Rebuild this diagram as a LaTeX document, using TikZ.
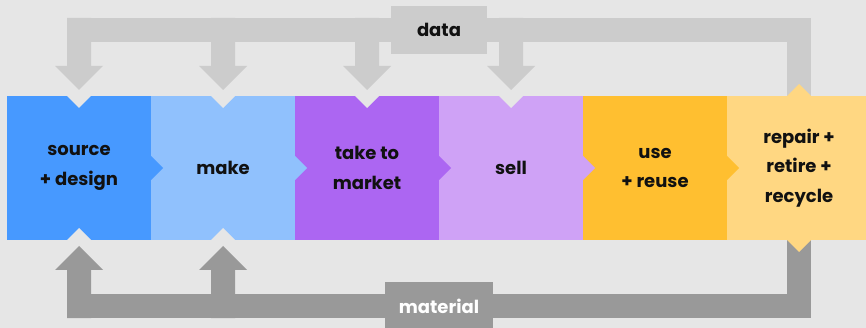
\documentclass[tikz,border=0pt]{standalone}
\usepackage{fontspec}
\setmainfont{Poppins}
\usetikzlibrary{positioning}

\definecolor{bg}{HTML}{E6E6E6}
\definecolor{datagray}{HTML}{CCCCCC}
\definecolor{matgray}{HTML}{999999}
\definecolor{srcblue}{HTML}{4799FF}
\definecolor{makeblue}{HTML}{90C1FD}
\definecolor{marketpurple}{HTML}{AC66F2}
\definecolor{sellpurple}{HTML}{CFA2F6}
\definecolor{useyellow}{HTML}{FFBF30}
\definecolor{repairyellow}{HTML}{FFD782}
\definecolor{ink}{HTML}{111111}

\tikzset{
  stage/.style={minimum width=144pt, minimum height=144pt, inner sep=0pt,
    outer sep=0pt, align=center, text=ink,
    font=\bfseries\fontsize{18}{29.5}\selectfont},
  flowlabel/.style={minimum height=48pt, inner sep=0pt, outer sep=0pt,
    font=\bfseries\fontsize{18}{20}\selectfont}
}

\begin{document}
\begin{tikzpicture}[x=1pt, y=-1pt]

\clip (0,0) rectangle (866,328);
\fill [bg] (0,0) rectangle (866,328);

% the six stages
\node [stage, fill=srcblue] (src) at (79,168) {source\\+ design};
\node [stage, fill=makeblue, right=0pt of src] (make) {make};
\node [stage, fill=marketpurple, right=0pt of make] (market) {take to\\market};
\node [stage, fill=sellpurple, right=0pt of market] (sell) {sell};
\node [stage, fill=useyellow, right=0pt of sell] (use) {use\\+ reuse};
\node [stage, fill=repairyellow, right=0pt of use] (repair) {repair +\\retire +\\recycle};

% chevrons into the next stage
\foreach \n/\c in {src/srcblue, make/makeblue, market/marketpurple, sell/sellpurple, use/useyellow}
  \fill [\c] ([yshift=12pt]\n.east) -- ([xshift=12pt]\n.east) -- ([yshift=-12pt]\n.east) -- cycle;

% notches
\foreach \n in {src,make,market,sell}
  \fill [bg] ([xshift=-12pt]\n.north) -- ([yshift=-12pt]\n.north) -- ([xshift=12pt]\n.north) -- cycle;
\foreach \n in {src,make}
  \fill [bg] ([xshift=-12pt]\n.south) -- ([yshift=12pt]\n.south) -- ([xshift=12pt]\n.south) -- cycle;

% data
\fill [datagray] ([xshift=-12pt,yshift=78pt]src.north) rectangle ([xshift=12pt,yshift=54pt]repair.north);
\fill [datagray] ([xshift=-12pt,yshift=78pt]repair.north) rectangle ([xshift=12pt]repair.north);
\foreach \n in {src,make,market,sell}
  \fill [datagray] ([xshift=-12pt,yshift=78pt]\n.north) -- ([xshift=-12pt,yshift=30pt]\n.north)
    -- ([xshift=-24pt,yshift=30pt]\n.north) -- ([yshift=6pt]\n.north)
    -- ([xshift=24pt,yshift=30pt]\n.north) -- ([xshift=12pt,yshift=30pt]\n.north)
    -- ([xshift=12pt,yshift=78pt]\n.north) -- cycle;

% material
\fill [matgray] ([xshift=-12pt,yshift=-54pt]src.south) rectangle ([xshift=12pt,yshift=-78pt]repair.south);
\fill [matgray] ([xshift=-12pt,yshift=-78pt]repair.south) rectangle ([xshift=12pt]repair.south);
\foreach \n in {src,make}
  \fill [matgray] ([xshift=-12pt,yshift=-78pt]\n.south) -- ([xshift=-12pt,yshift=-30pt]\n.south)
    -- ([xshift=-24pt,yshift=-30pt]\n.south) -- ([yshift=-6pt]\n.south)
    -- ([xshift=24pt,yshift=-30pt]\n.south) -- ([xshift=12pt,yshift=-30pt]\n.south)
    -- ([xshift=12pt,yshift=-78pt]\n.south) -- cycle;

% repair tips
\fill [repairyellow] ([xshift=-12pt]repair.north) -- ([yshift=12pt]repair.north) -- ([xshift=12pt]repair.north) -- cycle;
\fill [repairyellow] ([xshift=-12pt]repair.south) -- ([yshift=-12pt]repair.south) -- ([xshift=12pt]repair.south) -- cycle;

\node [flowlabel, fill=datagray, text=ink, minimum width=96pt] (datalbl) at (439,30) {data};
\node [flowlabel, fill=matgray, text=white, minimum width=108pt] (matlbl) at (439,306) {material};

\end{tikzpicture}
\end{document}
